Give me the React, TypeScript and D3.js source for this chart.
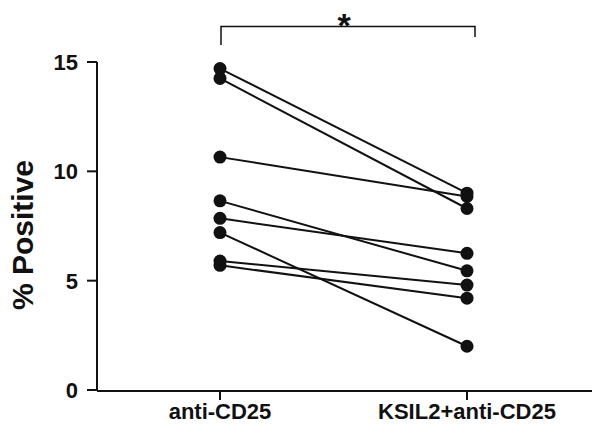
import React from "react";
import * as d3 from "d3";

const categories = ["anti-CD25", "KSIL2+anti-CD25"];
const antiCD25 = [14.7, 14.25, 10.65, 8.65, 7.85, 7.2, 5.9, 5.7];
const ksil2AntiCD25 = [9.0, 8.3, 8.85, 5.45, 6.25, 2.0, 4.8, 4.2];
const yTicks = [0, 5, 10, 15];

const W = 602;
const H = 444;
const FONT = "'Liberation Sans', Arial, Helvetica, sans-serif";

export default function App() {
  const y = d3.scaleLinear().domain([0, 15]).range([390, 62]);
  const x = d3.scalePoint<string>().domain(categories).range([220, 467]);
  const axisX = 97;
  const axisY = 391;
  const pairs = antiCD25.map((v, i) => [v, ksil2AntiCD25[i]]);
  const line = d3
    .line<[string, number]>()
    .x((d) => x(d[0]) as number)
    .y((d) => y(d[1]));

  return (
    <svg
      width={W}
      height={H}
      style={{ position: "absolute", left: 0, top: 0, background: "#fff" }}
      fontFamily={FONT}
    >
      <rect width={W} height={H} fill="#fff" />
      {/* Y axis */}
      <line x1={axisX} x2={axisX} y1={y(15)} y2={axisY} stroke="#111" strokeWidth={2} />
      {yTicks.map((t) => (
        <g key={t}>
          <line x1={axisX - 10} x2={axisX} y1={y(t)} y2={y(t)} stroke="#111" strokeWidth={2} />
          <text
            x={78}
            y={y(t)}
            dy="0.36em"
            textAnchor="end"
            fontSize={22}
            fontWeight="bold"
            fill="#111"
          >
            {t}
          </text>
        </g>
      ))}
      <text
        transform={`translate(33, ${235}) rotate(-90)`}
        textAnchor="middle"
        fontSize={30}
        fontWeight="bold"
        fill="#111"
      >
        % Positive
      </text>
      {/* X axis */}
      <line x1={axisX} x2={592} y1={axisY} y2={axisY} stroke="#111" strokeWidth={2} />
      {categories.map((c) => (
        <g key={c}>
          <line
            x1={x(c) as number}
            x2={x(c) as number}
            y1={axisY}
            y2={axisY + 9}
            stroke="#111"
            strokeWidth={2}
          />
          <text
            x={x(c) as number}
            y={419}
            textAnchor="middle"
            fontSize={22}
            fontWeight="bold"
            fill="#111"
          >
            {c}
          </text>
        </g>
      ))}
      {/* Paired lines */}
      {pairs.map((p, i) => (
        <path
          key={"l" + i}
          d={line([
            [categories[0], p[0]],
            [categories[1], p[1]],
          ]) as string}
          fill="none"
          stroke="#111"
          strokeWidth={2}
        />
      ))}
      {pairs.map((p, i) => (
        <g key={"p" + i}>
          <circle cx={x(categories[0]) as number} cy={y(p[0])} r={6.5} fill="#111" />
          <circle cx={x(categories[1]) as number} cy={y(p[1])} r={6.5} fill="#111" />
        </g>
      ))}
      {/* Significance bracket */}
      <path
        d={`M221,45 V26.5 H475 V37`}
        fill="none"
        stroke="#111"
        strokeWidth={1.5}
      />
      <text x={344} y={37} textAnchor="middle" fontSize={34} fontWeight="bold" fill="#111">
        *
      </text>
    </svg>
  );
}
